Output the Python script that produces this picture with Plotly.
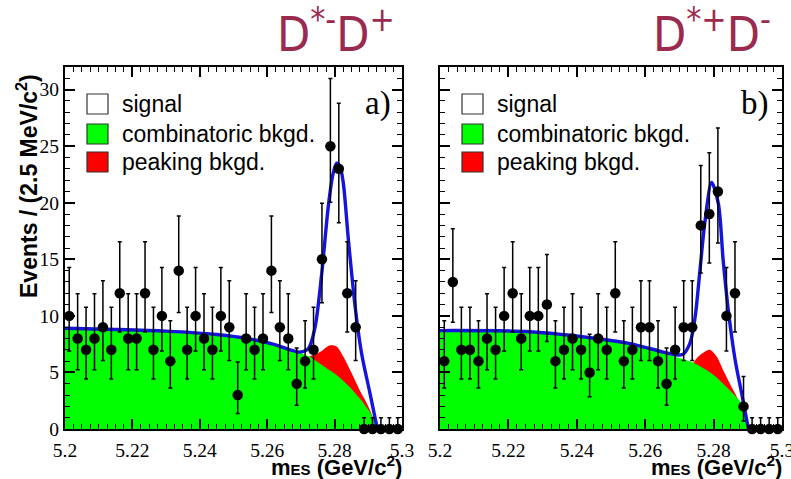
import plotly.graph_objects as go

# ---------------- data ----------------
BIN_LO = 5.2
BIN_W = 0.0025
N_BINS = 40

counts_a = [10, 8, 7, 8, 9, 7, 12, 8, 8, 12, 7, 10, 6, 14, 7, 10, 8, 7, 10, 9,
            3, 8, 7, 8, 14, 9, 8, 4, 6, 7, 15, 25, 23, 12, 9, 0, 0, 0, 0, 0]
counts_b = [6, 13, 7, 7, 6, 8, 7, 10, 12, 8, 10, 10, 11, 6, 7, 8, 7, 5, 8, 7,
            12, 6, 7, 9, 9, 6, 4, 7, 9, 9, 18, 19, 21, 10, 12, 2, 0, 0, 0, 0]

# 68% Poisson interval edges per observed count (lower edge, upper edge)
ERR_N = [0, 2, 3, 4, 5, 6, 7, 8, 9, 10, 11, 12, 13, 14, 15, 18, 19, 21, 23, 25]
ERR_LO = [0.0, 0.71, 1.37, 2.09, 2.84, 3.62, 4.42, 5.23, 6.06, 6.89, 7.73, 8.58,
          9.44, 10.30, 11.17, 13.79, 14.67, 16.45, 18.24, 20.04]
ERR_HI = [1.0, 4.64, 5.92, 7.16, 8.38, 9.58, 10.77, 11.95, 13.11, 14.27, 15.42,
          16.56, 17.70, 18.83, 19.96, 23.30, 24.41, 26.61, 28.80, 30.98]

# fit curves (mass, events)
comb_a_x = [5.200, 5.215, 5.230, 5.245, 5.255, 5.263, 5.268, 5.2725, 5.2765,
            5.2805, 5.2845, 5.2875, 5.2900, 5.2915, 5.2927]
comb_a_y = [8.9, 8.8, 8.65, 8.35, 7.95, 7.35, 6.95, 6.4, 5.6, 4.8, 3.7, 2.7,
            1.7, 0.9, 0.0]
peak_a_x = [5.2725, 5.2757, 5.2786, 5.2806, 5.2826, 5.2851, 5.2875, 5.2900, 5.2927]
peak_a_y = [6.4, 6.8, 7.4, 7.3, 6.4, 4.9, 3.4, 2.0, 0.0]
tot_a_x = [5.200, 5.215, 5.230, 5.245, 5.255, 5.263, 5.2668, 5.2697, 5.2722,
           5.2742, 5.2762, 5.2781, 5.2795, 5.2806, 5.2816, 5.2826, 5.2841,
           5.2861, 5.2880, 5.2905, 5.2927]
tot_a_y = [8.9, 8.8, 8.65, 8.35, 7.95, 7.4, 7.0, 6.8, 7.1, 9.0, 13.8, 19.6,
           22.5, 23.5, 23.2, 21.7, 16.7, 10.8, 6.7, 3.15, 0.0]

comb_b_x = [5.200, 5.2263, 5.2458, 5.2556, 5.2653, 5.2702, 5.2741, 5.2799,
            5.2848, 5.2887, 5.2902]
comb_b_y = [8.7, 8.6, 8.0, 7.55, 6.75, 6.25, 5.85, 4.8, 3.4, 2.0, 0.0]
peak_b_x = [5.2741, 5.2755, 5.2770, 5.2789, 5.2809, 5.2828, 5.2853, 5.2877, 5.2902]
peak_b_y = [5.85, 6.4, 6.75, 7.0, 6.4, 5.2, 3.7, 2.3, 0.0]
tot_b_x = [5.200, 5.2263, 5.2458, 5.2556, 5.2653, 5.2692, 5.2710, 5.2731,
           5.2746, 5.2760, 5.2775, 5.2794, 5.2814, 5.2828, 5.2843, 5.2863,
           5.2882, 5.2902]
tot_b_y = [8.7, 8.6, 8.0, 7.55, 6.8, 6.55, 6.6, 7.6, 9.9, 14.0, 18.4, 21.8,
           19.9, 14.9, 10.5, 6.1, 3.15, 0.0]

X_TICKS = [5.2, 5.22, 5.24, 5.26, 5.28, 5.3]
X_TICK_TEXT = ["5.2", "5.22", "5.24", "5.26", "5.28", "5.3"]
Y_TICKS = [0, 5, 10, 15, 20, 25, 30]
Y_TICK_TEXT = ["0", "5", "10", "15", "20", "25", "30"]

PANEL_TITLES = ["D<sup>*-</sup>D<sup>+</sup>", "D<sup>*+</sup>D<sup>-</sup>"]
PANEL_TAGS = ["a)", "b)"]
LEGEND_LABELS = ["signal", "combinatoric bkgd.", "peaking bkgd."]
Y_TITLE = "Events / (2.5 MeV/c<sup>2</sup>)"
X_TITLE = "m<span style='font-size:15px'>ES</span> (GeV/c<sup>2</sup>)"

# ---------------- styling ----------------
W, H = 791, 479
GREEN = "#00ff00"
RED = "#ff0000"
BLUE = "#1414dc"
TITLE_COL = "#9b2a4f"
SERIF = "Liberation Serif, Times New Roman, serif"
SANS = "Liberation Sans, Arial, sans-serif"


def fx(p):
    return p / W


def fy(p):
    return 1 - p / H


panels = [
    dict(counts=counts_a, comb=(comb_a_x, comb_a_y), peak=(peak_a_x, peak_a_y),
         tot=(tot_a_x, tot_a_y), xa="x", ya="y", left=65, right=402),
    dict(counts=counts_b, comb=(comb_b_x, comb_b_y), peak=(peak_b_x, peak_b_y),
         tot=(tot_b_x, tot_b_y), xa="x2", ya="y2", left=440, right=782),
]

bin_centers = [BIN_LO + BIN_W * (i + 0.5) for i in range(N_BINS)]
lo_map = dict(zip(ERR_N, ERR_LO))
hi_map = dict(zip(ERR_N, ERR_HI))

fig = go.Figure()
for p in panels:
    fig.add_trace(go.Scatter(x=p["peak"][0], y=p["peak"][1], xaxis=p["xa"], yaxis=p["ya"],
                             mode="lines", fill="tozeroy", fillcolor=RED,
                             line=dict(width=0, shape="spline", smoothing=0.8, color=RED),
                             hoverinfo="skip", showlegend=False))
    fig.add_trace(go.Scatter(x=p["comb"][0], y=p["comb"][1], xaxis=p["xa"], yaxis=p["ya"],
                             mode="lines", fill="tozeroy", fillcolor=GREEN,
                             line=dict(width=0, shape="spline", smoothing=0.8, color=GREEN),
                             hoverinfo="skip", showlegend=False))
    fig.add_trace(go.Scatter(x=p["tot"][0], y=p["tot"][1], xaxis=p["xa"], yaxis=p["ya"],
                             mode="lines",
                             line=dict(width=3.4, shape="spline", smoothing=0.8, color=BLUE),
                             hoverinfo="skip", showlegend=False))
    c = p["counts"]
    up = [hi_map[n] - n for n in c]
    dn = [n - lo_map[n] for n in c]
    fig.add_trace(go.Scatter(x=bin_centers, y=c, xaxis=p["xa"], yaxis=p["ya"],
                             mode="markers", cliponaxis=False,
                             marker=dict(size=10.5, color="black"),
                             error_y=dict(type="data", symmetric=False, array=up,
                                          arrayminus=dn, color="black",
                                          thickness=1.5, width=2),
                             showlegend=False))

axis_common = dict(showline=True, linecolor="black", linewidth=2, mirror="allticks",
                   ticks="inside", ticklen=10, tickwidth=1.5, tickcolor="black",
                   showgrid=False, zeroline=False, automargin=False,
                   tickfont=dict(family=SERIF, size=19.5, color="black"))

ydom = [fy(429), fy(67)]
layout = dict(
    width=W, height=H, margin=dict(l=0, r=0, t=0, b=0, pad=0, autoexpand=False),
    paper_bgcolor="white", plot_bgcolor="white", showlegend=False,
)
for k, p in enumerate(panels):
    sfx = "" if k == 0 else "2"
    layout["xaxis" + sfx] = dict(
        axis_common, domain=[fx(p["left"]), fx(p["right"])], range=[5.2, 5.3],
        tickmode="array", tickvals=X_TICKS, ticktext=X_TICK_TEXT,
        anchor="y" + sfx, ticklabelstandoff=3, ticklabeloverflow="allow",
        minor=dict(ticks="inside", ticklen=5, tickwidth=1.2, tickcolor="black",
                   tick0=5.2, dtick=BIN_W),
    )
    layout["yaxis" + sfx] = dict(
        axis_common, domain=ydom, range=[0, 32],
        tickmode="array", tickvals=Y_TICKS, ticktext=Y_TICK_TEXT,
        anchor="x" + sfx, showticklabels=(k == 0),
        minor=dict(ticks="inside", ticklen=5, tickwidth=1.2, tickcolor="black",
                   tick0=0, dtick=1),
    )
fig.update_layout(**layout)

ann = []
shapes = []
ann.append(dict(x=fx(27), y=fy(186), xref="paper", yref="paper", text="<b>" + Y_TITLE + "</b>",
                textangle=-90, showarrow=False, font=dict(family=SANS, size=23, color="black"),
                xanchor="center", yanchor="middle"))
title_cx = [336, 712]
tag_cx = [378, 755]
for k, p in enumerate(panels):
    ann.append(dict(x=fx(p["right"] + 2), y=fy(466), xref="paper", yref="paper",
                    text="<b>" + X_TITLE + "</b>", showarrow=False,
                    font=dict(family=SANS, size=22, color="black"),
                    xanchor="right", yanchor="middle"))
    ann.append(dict(x=fx(title_cx[k]), y=fy(31), xref="paper", yref="paper",
                    text=PANEL_TITLES[k], showarrow=False,
                    font=dict(family="DejaVu Sans Condensed, DejaVu Sans", size=48, color=TITLE_COL),
                    xanchor="center", yanchor="middle"))
    ann.append(dict(x=fx(tag_cx[k]), y=fy(103), xref="paper", yref="paper",
                    text=PANEL_TAGS[k], showarrow=False,
                    font=dict(family=SERIF, size=33, color="black"),
                    xanchor="center", yanchor="middle"))
    bx = p["left"] + 22
    rows = [104, 134, 162]
    fills = ["white", GREEN, RED]
    for r, lab, fc in zip(rows, LEGEND_LABELS, fills):
        shapes.append(dict(type="rect", xref="paper", yref="paper",
                           x0=fx(bx), x1=fx(bx + 21), y0=fy(r - 10), y1=fy(r + 10),
                           fillcolor=fc, line=dict(color="#333333", width=1.2)))
        ann.append(dict(x=fx(bx + 33), y=fy(r), xref="paper", yref="paper", text=lab,
                        showarrow=False, font=dict(family=SANS, size=23, color="black"),
                        xanchor="left", yanchor="middle"))

fig.update_layout(annotations=ann, shapes=shapes)
fig.write_html("out.html")
